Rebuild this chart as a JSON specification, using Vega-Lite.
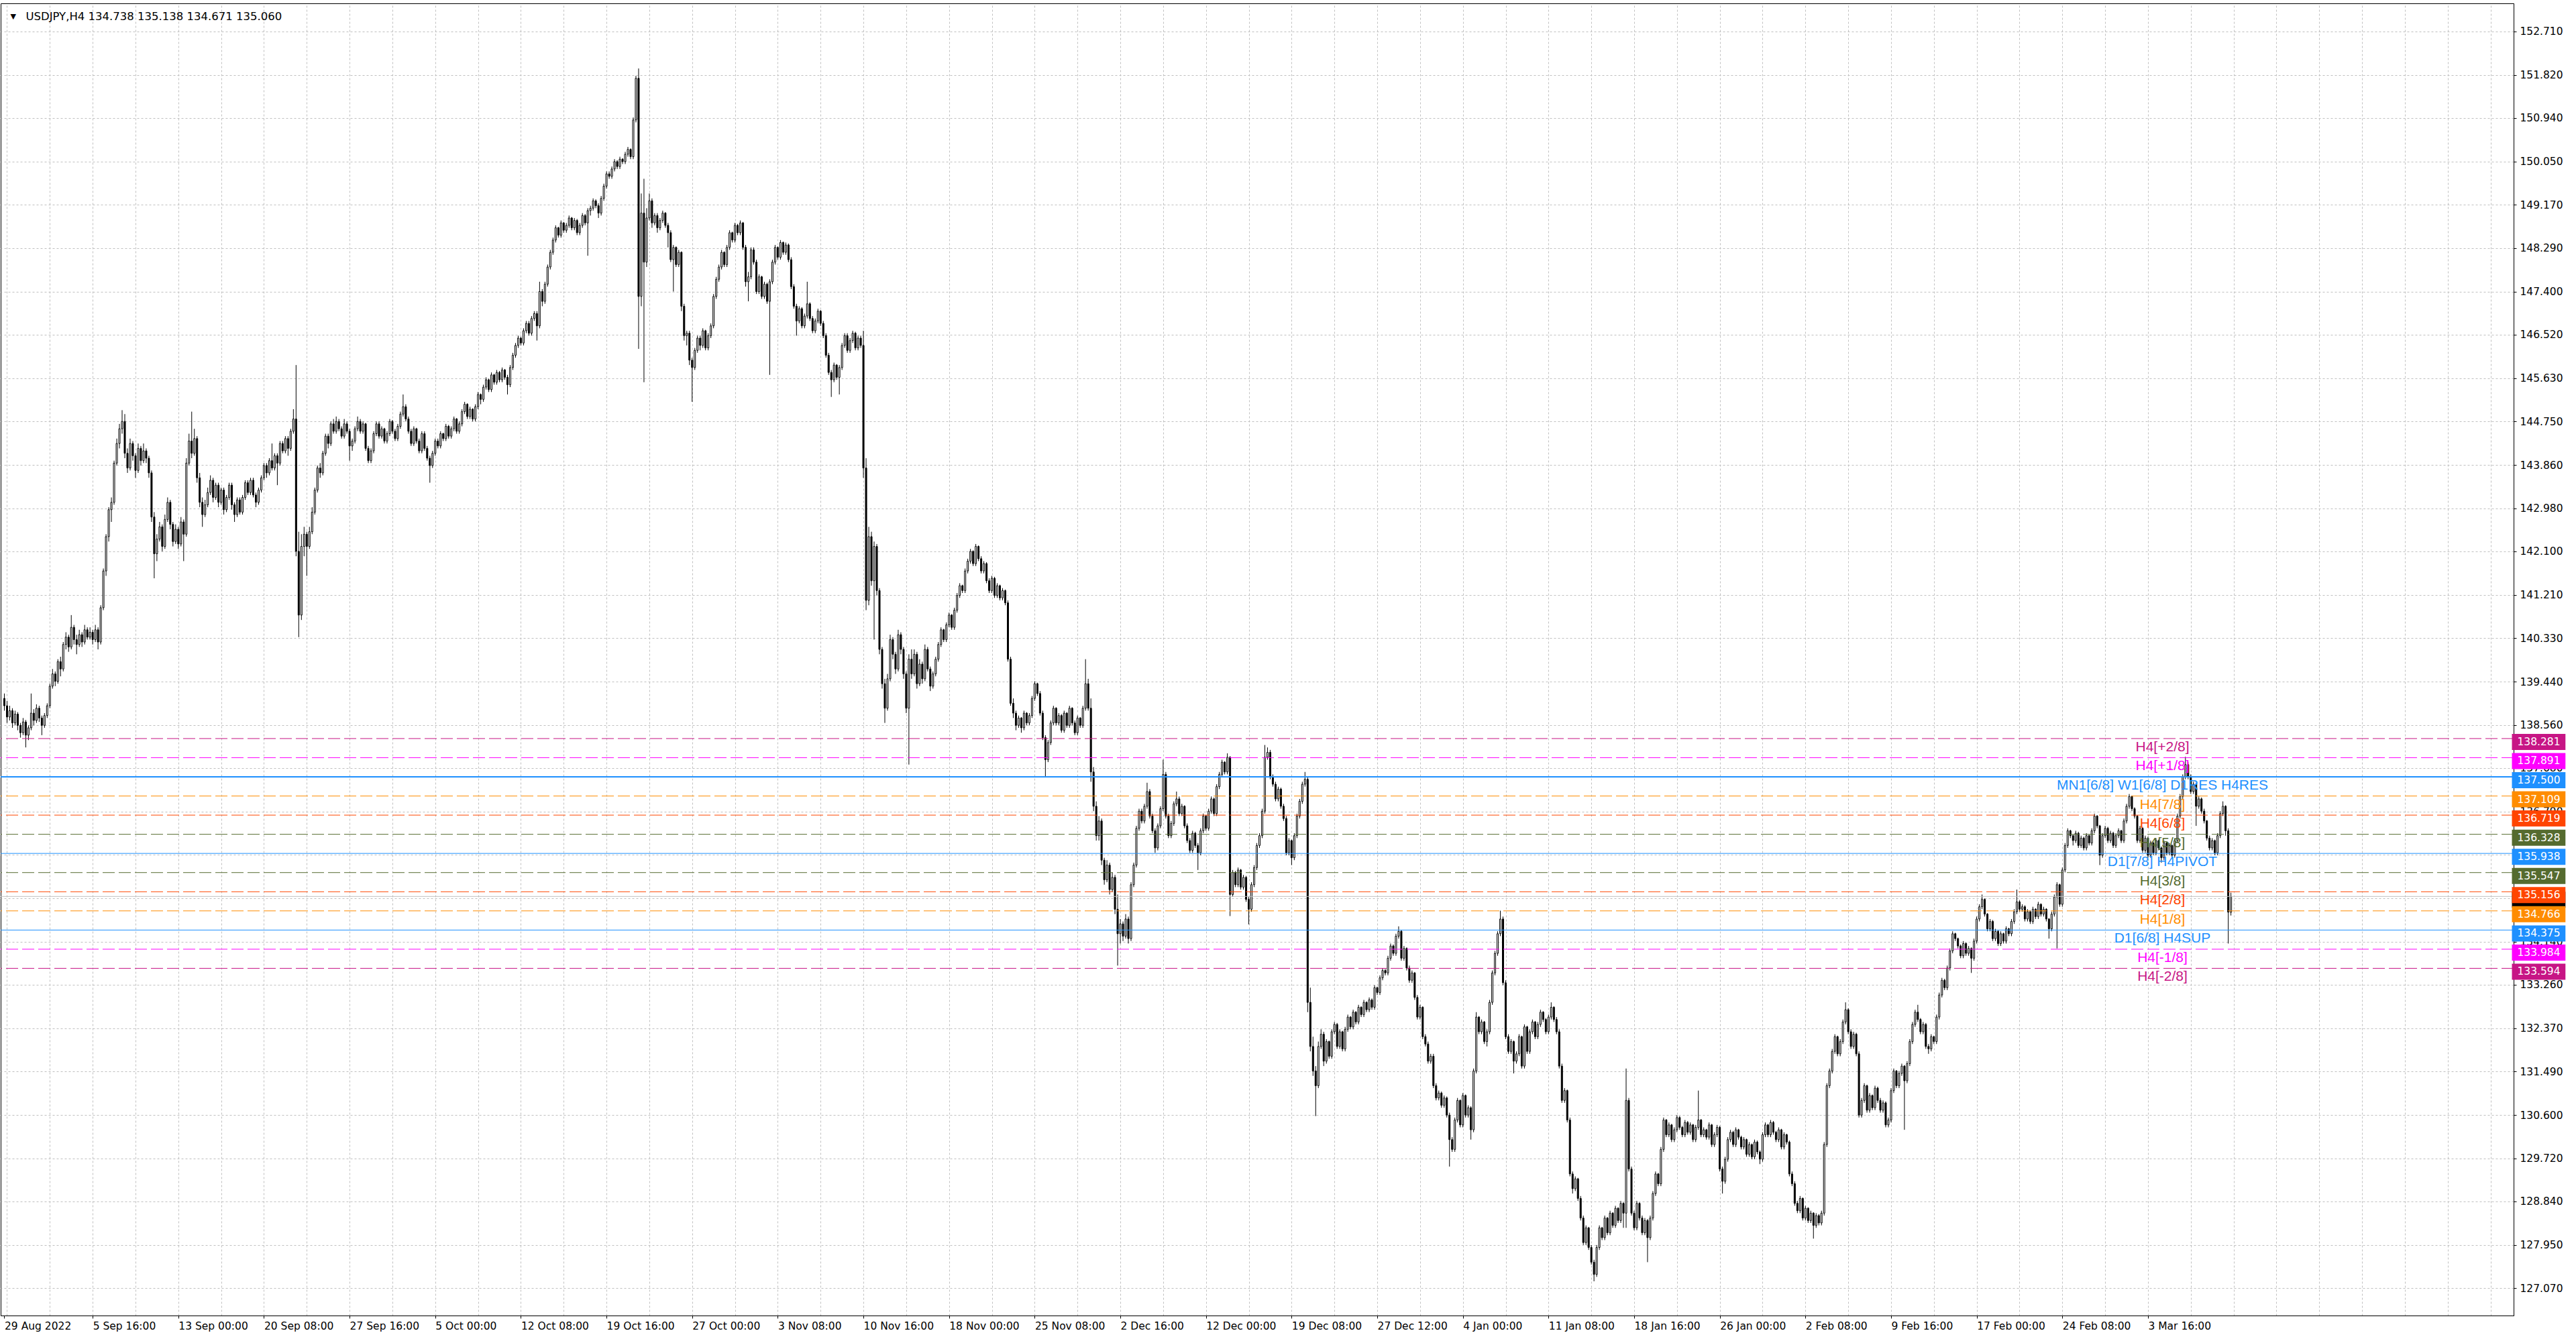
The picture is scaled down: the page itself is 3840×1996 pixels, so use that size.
{
"$schema": "https://vega.github.io/schema/vega-lite/v6.json",
"width": 3746, "height": 1956,
"padding": {"left": 0, "top": 5, "right": 0, "bottom": 0},
"autosize": {"type": "pad"},
"background": "#ffffff",
"config": {"view": {"stroke": "#000000", "strokeWidth": 1}},
"datasets": {
"levels": [
{"v":138.281,"name":"H4[+2/8]","t":"oct"},
{"v":137.891,"name":"H4[+1/8]","t":"oct"},
{"v":137.5,"name":"MN1[6/8] W1[6/8] D1RES H4RES","t":"sr","n":4},
{"v":137.109,"name":"H4[7/8]","t":"oct"},
{"v":136.719,"name":"H4[6/8]","t":"oct"},
{"v":136.328,"name":"H4[5/8]","t":"oct"},
{"v":135.938,"name":"D1[7/8] H4PIVOT","t":"sr","n":2},
{"v":135.547,"name":"H4[3/8]","t":"oct"},
{"v":135.156,"name":"H4[2/8]","t":"oct"},
{"v":134.766,"name":"H4[1/8]","t":"oct"},
{"v":134.375,"name":"D1[6/8] H4SUP","t":"sr","n":2},
{"v":133.984,"name":"H4[-1/8]","t":"oct"},
{"v":133.594,"name":"H4[-2/8]","t":"oct"}
],
"candles": [
{"i":0,"o":139.1,"h":139.2,"l":138.85,"c":138.95},
{"i":1,"o":138.95,"h":139.05,"l":138.6,"c":138.72},
{"i":2,"o":138.72,"h":138.95,"l":138.65,"c":138.85},
{"i":3,"o":138.85,"h":138.9,"l":138.5,"c":138.6},
{"i":4,"o":138.6,"h":138.85,"l":138.55,"c":138.78},
{"i":5,"o":138.78,"h":138.82,"l":138.45,"c":138.55},
{"i":6,"o":138.55,"h":138.6,"l":138.3,"c":138.4},
{"i":7,"o":138.4,"h":138.7,"l":138.35,"c":138.62},
{"i":8,"o":138.62,"h":138.66,"l":138.1,"c":138.35},
{"i":9,"o":138.35,"h":138.55,"l":138.25,"c":138.5},
{"i":10,"o":138.5,"h":139.2,"l":138.45,"c":138.8},
{"i":11,"o":138.8,"h":138.88,"l":138.55,"c":138.65},
{"i":12,"o":138.65,"h":138.98,"l":138.6,"c":138.9},
{"i":13,"o":138.9,"h":138.95,"l":138.62,"c":138.7},
{"i":14,"o":138.7,"h":138.75,"l":138.35,"c":138.55},
{"i":15,"o":138.55,"h":138.8,"l":138.5,"c":138.75},
{"i":16,"o":138.75,"h":139.0,"l":138.7,"c":138.95},
{"i":17,"o":138.95,"h":139.4,"l":138.9,"c":139.35},
{"i":18,"o":139.35,"h":139.7,"l":139.3,"c":139.6},
{"i":19,"o":139.6,"h":139.65,"l":139.35,"c":139.45},
{"i":20,"o":139.45,"h":139.9,"l":139.4,"c":139.85},
{"i":21,"o":139.85,"h":139.95,"l":139.55,"c":139.7},
{"i":22,"o":139.7,"h":140.25,"l":139.65,"c":140.2},
{"i":23,"o":140.2,"h":140.45,"l":140.1,"c":140.35},
{"i":24,"o":140.35,"h":140.4,"l":140.05,"c":140.15},
{"i":25,"o":140.15,"h":140.8,"l":140.1,"c":140.55},
{"i":26,"o":140.55,"h":140.6,"l":140.2,"c":140.3},
{"i":27,"o":140.3,"h":140.4,"l":140.0,"c":140.2},
{"i":28,"o":140.2,"h":140.5,"l":140.15,"c":140.4},
{"i":29,"o":140.4,"h":140.45,"l":140.15,"c":140.25},
{"i":30,"o":140.25,"h":140.6,"l":140.2,"c":140.5},
{"i":31,"o":140.5,"h":140.55,"l":140.3,"c":140.35},
{"i":32,"o":140.35,"h":140.55,"l":140.3,"c":140.45},
{"i":33,"o":140.45,"h":140.5,"l":140.2,"c":140.3},
{"i":34,"o":140.3,"h":140.6,"l":140.25,"c":140.5},
{"i":35,"o":140.5,"h":140.55,"l":140.1,"c":140.25},
{"i":36,"o":140.25,"h":141.0,"l":140.2,"c":140.95},
{"i":37,"o":140.95,"h":141.75,"l":140.9,"c":141.7},
{"i":38,"o":141.7,"h":142.45,"l":141.6,"c":142.4},
{"i":39,"o":142.4,"h":143.0,"l":142.3,"c":142.95},
{"i":40,"o":142.95,"h":143.2,"l":142.7,"c":143.1},
{"i":41,"o":143.1,"h":143.95,"l":143.05,"c":143.9},
{"i":42,"o":143.9,"h":144.4,"l":143.85,"c":144.3},
{"i":43,"o":144.3,"h":144.7,"l":144.2,"c":144.6},
{"i":44,"o":144.6,"h":144.98,"l":144.5,"c":144.75},
{"i":45,"o":144.75,"h":144.9,"l":144.0,"c":144.1},
{"i":46,"o":144.1,"h":144.2,"l":143.7,"c":143.8},
{"i":47,"o":143.8,"h":144.4,"l":143.75,"c":144.3},
{"i":48,"o":144.3,"h":144.35,"l":143.95,"c":144.05},
{"i":49,"o":144.05,"h":144.1,"l":143.6,"c":143.75},
{"i":50,"o":143.75,"h":144.3,"l":143.7,"c":144.2},
{"i":51,"o":144.2,"h":144.25,"l":143.85,"c":143.95},
{"i":52,"o":143.95,"h":144.3,"l":143.9,"c":144.15},
{"i":53,"o":144.15,"h":144.2,"l":143.9,"c":144.0},
{"i":54,"o":144.0,"h":144.05,"l":143.6,"c":143.7},
{"i":55,"o":143.7,"h":143.75,"l":142.7,"c":142.8},
{"i":56,"o":142.8,"h":142.9,"l":141.55,"c":142.05},
{"i":57,"o":142.05,"h":142.45,"l":141.9,"c":142.35},
{"i":58,"o":142.35,"h":142.7,"l":142.3,"c":142.6},
{"i":59,"o":142.6,"h":142.65,"l":142.1,"c":142.2},
{"i":60,"o":142.2,"h":142.85,"l":142.15,"c":142.75},
{"i":61,"o":142.75,"h":143.2,"l":142.7,"c":143.1},
{"i":62,"o":143.1,"h":143.15,"l":142.55,"c":142.65},
{"i":63,"o":142.65,"h":142.7,"l":142.2,"c":142.3},
{"i":64,"o":142.3,"h":142.65,"l":142.25,"c":142.55},
{"i":65,"o":142.55,"h":142.6,"l":142.15,"c":142.25},
{"i":66,"o":142.25,"h":142.8,"l":142.2,"c":142.7},
{"i":67,"o":142.7,"h":142.75,"l":141.9,"c":142.45},
{"i":68,"o":142.45,"h":144.0,"l":142.4,"c":143.9},
{"i":69,"o":143.9,"h":144.5,"l":143.85,"c":144.35},
{"i":70,"o":144.35,"h":144.95,"l":144.0,"c":144.1},
{"i":71,"o":144.1,"h":144.6,"l":144.05,"c":144.4},
{"i":72,"o":144.4,"h":144.45,"l":143.5,"c":143.6},
{"i":73,"o":143.6,"h":143.7,"l":143.0,"c":143.1},
{"i":74,"o":143.1,"h":143.2,"l":142.6,"c":142.85},
{"i":75,"o":142.85,"h":143.15,"l":142.8,"c":143.05},
{"i":76,"o":143.05,"h":143.4,"l":143.0,"c":143.3},
{"i":77,"o":143.3,"h":143.65,"l":143.25,"c":143.55},
{"i":78,"o":143.55,"h":143.6,"l":143.1,"c":143.2},
{"i":79,"o":143.2,"h":143.5,"l":143.15,"c":143.45},
{"i":80,"o":143.45,"h":143.5,"l":143.0,"c":143.1},
{"i":81,"o":143.1,"h":143.4,"l":143.05,"c":143.35},
{"i":82,"o":143.35,"h":143.4,"l":142.85,"c":142.95},
{"i":83,"o":142.95,"h":143.25,"l":142.9,"c":143.2},
{"i":84,"o":143.2,"h":143.5,"l":143.15,"c":143.45},
{"i":85,"o":143.45,"h":143.5,"l":142.95,"c":143.05},
{"i":86,"o":143.05,"h":143.1,"l":142.7,"c":142.85},
{"i":87,"o":142.85,"h":143.2,"l":142.8,"c":143.15},
{"i":88,"o":143.15,"h":143.2,"l":142.85,"c":142.9},
{"i":89,"o":142.9,"h":143.25,"l":142.85,"c":143.2},
{"i":90,"o":143.2,"h":143.55,"l":143.15,"c":143.5},
{"i":91,"o":143.5,"h":143.55,"l":143.25,"c":143.3},
{"i":92,"o":143.3,"h":143.6,"l":143.25,"c":143.55},
{"i":93,"o":143.55,"h":143.6,"l":143.2,"c":143.25},
{"i":94,"o":143.25,"h":143.3,"l":143.0,"c":143.1},
{"i":95,"o":143.1,"h":143.4,"l":143.05,"c":143.35},
{"i":96,"o":143.35,"h":143.65,"l":143.3,"c":143.6},
{"i":97,"o":143.6,"h":143.9,"l":143.55,"c":143.85},
{"i":98,"o":143.85,"h":143.9,"l":143.6,"c":143.7},
{"i":99,"o":143.7,"h":144.0,"l":143.65,"c":143.95},
{"i":100,"o":143.95,"h":144.3,"l":143.75,"c":143.8},
{"i":101,"o":143.8,"h":144.1,"l":143.75,"c":144.05},
{"i":102,"o":144.05,"h":144.1,"l":143.45,"c":143.9},
{"i":103,"o":143.9,"h":144.35,"l":143.85,"c":144.3},
{"i":104,"o":144.3,"h":144.35,"l":144.1,"c":144.15},
{"i":105,"o":144.15,"h":144.45,"l":144.1,"c":144.4},
{"i":106,"o":144.4,"h":144.45,"l":144.05,"c":144.2},
{"i":107,"o":144.2,"h":144.6,"l":144.15,"c":144.55},
{"i":108,"o":144.55,"h":145.0,"l":144.5,"c":144.8},
{"i":109,"o":144.8,"h":145.9,"l":142.0,"c":142.1},
{"i":110,"o":142.1,"h":142.5,"l":140.35,"c":140.8},
{"i":111,"o":140.8,"h":142.45,"l":140.7,"c":142.2},
{"i":112,"o":142.2,"h":142.6,"l":142.0,"c":142.45},
{"i":113,"o":142.45,"h":142.5,"l":141.6,"c":142.2},
{"i":114,"o":142.2,"h":142.6,"l":142.15,"c":142.5},
{"i":115,"o":142.5,"h":143.0,"l":142.45,"c":142.9},
{"i":116,"o":142.9,"h":143.4,"l":142.85,"c":143.35},
{"i":117,"o":143.35,"h":143.85,"l":143.3,"c":143.8},
{"i":118,"o":143.8,"h":143.9,"l":143.6,"c":143.7},
{"i":119,"o":143.7,"h":144.15,"l":143.65,"c":144.1},
{"i":120,"o":144.1,"h":144.5,"l":144.05,"c":144.45},
{"i":121,"o":144.45,"h":144.5,"l":144.2,"c":144.3},
{"i":122,"o":144.3,"h":144.75,"l":144.25,"c":144.7},
{"i":123,"o":144.7,"h":144.8,"l":144.5,"c":144.55},
{"i":124,"o":144.55,"h":144.85,"l":144.5,"c":144.75},
{"i":125,"o":144.75,"h":144.8,"l":144.55,"c":144.6},
{"i":126,"o":144.6,"h":144.65,"l":144.4,"c":144.45},
{"i":127,"o":144.45,"h":144.8,"l":144.4,"c":144.7},
{"i":128,"o":144.7,"h":144.75,"l":144.5,"c":144.55},
{"i":129,"o":144.55,"h":144.6,"l":143.95,"c":144.25},
{"i":130,"o":144.25,"h":144.4,"l":144.15,"c":144.35},
{"i":131,"o":144.35,"h":144.65,"l":144.3,"c":144.6},
{"i":132,"o":144.6,"h":144.85,"l":144.55,"c":144.75},
{"i":133,"o":144.75,"h":144.8,"l":144.5,"c":144.55},
{"i":134,"o":144.55,"h":144.75,"l":144.5,"c":144.7},
{"i":135,"o":144.7,"h":144.72,"l":144.15,"c":144.2},
{"i":136,"o":144.2,"h":144.25,"l":143.9,"c":143.95},
{"i":137,"o":143.95,"h":144.2,"l":143.9,"c":144.15},
{"i":138,"o":144.15,"h":144.55,"l":144.1,"c":144.5},
{"i":139,"o":144.5,"h":144.75,"l":144.45,"c":144.7},
{"i":140,"o":144.7,"h":144.75,"l":144.4,"c":144.45},
{"i":141,"o":144.45,"h":144.65,"l":144.4,"c":144.6},
{"i":142,"o":144.6,"h":144.62,"l":144.3,"c":144.35},
{"i":143,"o":144.35,"h":144.55,"l":144.3,"c":144.5},
{"i":144,"o":144.5,"h":144.8,"l":144.45,"c":144.75},
{"i":145,"o":144.75,"h":144.78,"l":144.5,"c":144.55},
{"i":146,"o":144.55,"h":144.6,"l":144.35,"c":144.4},
{"i":147,"o":144.4,"h":144.7,"l":144.35,"c":144.65},
{"i":148,"o":144.65,"h":144.95,"l":144.6,"c":144.9},
{"i":149,"o":144.9,"h":145.3,"l":144.85,"c":145.05},
{"i":150,"o":145.05,"h":145.1,"l":144.75,"c":144.8},
{"i":151,"o":144.8,"h":144.85,"l":144.5,"c":144.55},
{"i":152,"o":144.55,"h":144.6,"l":144.25,"c":144.3},
{"i":153,"o":144.3,"h":144.65,"l":144.25,"c":144.6},
{"i":154,"o":144.6,"h":144.62,"l":144.3,"c":144.35},
{"i":155,"o":144.35,"h":144.4,"l":144.1,"c":144.15},
{"i":156,"o":144.15,"h":144.55,"l":144.1,"c":144.5},
{"i":157,"o":144.5,"h":144.55,"l":144.15,"c":144.2},
{"i":158,"o":144.2,"h":144.25,"l":143.95,"c":144.0},
{"i":159,"o":144.0,"h":144.05,"l":143.5,"c":143.85},
{"i":160,"o":143.85,"h":144.15,"l":143.8,"c":144.1},
{"i":161,"o":144.1,"h":144.4,"l":144.05,"c":144.35},
{"i":162,"o":144.35,"h":144.4,"l":144.2,"c":144.25},
{"i":163,"o":144.25,"h":144.55,"l":144.2,"c":144.5},
{"i":164,"o":144.5,"h":144.52,"l":144.35,"c":144.4},
{"i":165,"o":144.4,"h":144.7,"l":144.35,"c":144.65},
{"i":166,"o":144.65,"h":144.68,"l":144.4,"c":144.45},
{"i":167,"o":144.45,"h":144.65,"l":144.4,"c":144.6},
{"i":168,"o":144.6,"h":144.85,"l":144.55,"c":144.8},
{"i":169,"o":144.8,"h":144.82,"l":144.5,"c":144.55},
{"i":170,"o":144.55,"h":144.75,"l":144.5,"c":144.7},
{"i":171,"o":144.7,"h":145.0,"l":144.65,"c":144.95},
{"i":172,"o":144.95,"h":145.15,"l":144.9,"c":145.1},
{"i":173,"o":145.1,"h":145.12,"l":144.8,"c":144.85},
{"i":174,"o":144.85,"h":145.05,"l":144.8,"c":145.0},
{"i":175,"o":145.0,"h":145.02,"l":144.75,"c":144.8},
{"i":176,"o":144.8,"h":145.1,"l":144.75,"c":145.05},
{"i":177,"o":145.05,"h":145.35,"l":145.0,"c":145.3},
{"i":178,"o":145.3,"h":145.32,"l":145.1,"c":145.2},
{"i":179,"o":145.2,"h":145.5,"l":145.15,"c":145.45},
{"i":180,"o":145.45,"h":145.65,"l":145.4,"c":145.6},
{"i":181,"o":145.6,"h":145.62,"l":145.35,"c":145.4},
{"i":182,"o":145.4,"h":145.75,"l":145.35,"c":145.7},
{"i":183,"o":145.7,"h":145.72,"l":145.5,"c":145.55},
{"i":184,"o":145.55,"h":145.8,"l":145.5,"c":145.75},
{"i":185,"o":145.75,"h":145.78,"l":145.55,"c":145.6},
{"i":186,"o":145.6,"h":145.85,"l":145.55,"c":145.8},
{"i":187,"o":145.8,"h":145.82,"l":145.6,"c":145.65},
{"i":188,"o":145.65,"h":145.7,"l":145.3,"c":145.5},
{"i":189,"o":145.5,"h":145.9,"l":145.45,"c":145.85},
{"i":190,"o":145.85,"h":146.15,"l":145.8,"c":146.1},
{"i":191,"o":146.1,"h":146.35,"l":146.05,"c":146.3},
{"i":192,"o":146.3,"h":146.5,"l":146.25,"c":146.45},
{"i":193,"o":146.45,"h":146.48,"l":146.3,"c":146.35},
{"i":194,"o":146.35,"h":146.65,"l":146.3,"c":146.6},
{"i":195,"o":146.6,"h":146.8,"l":146.55,"c":146.75},
{"i":196,"o":146.75,"h":146.8,"l":146.5,"c":146.55},
{"i":197,"o":146.55,"h":146.9,"l":146.5,"c":146.85},
{"i":198,"o":146.85,"h":147.0,"l":146.8,"c":146.95},
{"i":199,"o":146.95,"h":147.0,"l":146.4,"c":146.7},
{"i":200,"o":146.7,"h":147.6,"l":146.65,"c":147.4},
{"i":201,"o":147.4,"h":147.45,"l":147.1,"c":147.2},
{"i":202,"o":147.2,"h":147.6,"l":147.15,"c":147.55},
{"i":203,"o":147.55,"h":147.95,"l":147.5,"c":147.9},
{"i":204,"o":147.9,"h":148.25,"l":147.85,"c":148.2},
{"i":205,"o":148.2,"h":148.5,"l":148.15,"c":148.45},
{"i":206,"o":148.45,"h":148.75,"l":148.4,"c":148.7},
{"i":207,"o":148.7,"h":148.72,"l":148.5,"c":148.55},
{"i":208,"o":148.55,"h":148.85,"l":148.5,"c":148.8},
{"i":209,"o":148.8,"h":148.82,"l":148.6,"c":148.65},
{"i":210,"o":148.65,"h":148.8,"l":148.6,"c":148.75},
{"i":211,"o":148.75,"h":148.95,"l":148.7,"c":148.9},
{"i":212,"o":148.9,"h":148.92,"l":148.65,"c":148.7},
{"i":213,"o":148.7,"h":148.9,"l":148.65,"c":148.85},
{"i":214,"o":148.85,"h":148.88,"l":148.55,"c":148.6},
{"i":215,"o":148.6,"h":148.8,"l":148.55,"c":148.75},
{"i":216,"o":148.75,"h":149.0,"l":148.7,"c":148.95},
{"i":217,"o":148.95,"h":148.98,"l":148.75,"c":148.8},
{"i":218,"o":148.8,"h":149.1,"l":148.13,"c":149.05},
{"i":219,"o":149.05,"h":149.15,"l":148.95,"c":149.1},
{"i":220,"o":149.1,"h":149.3,"l":149.05,"c":149.25},
{"i":221,"o":149.25,"h":149.28,"l":149.1,"c":149.15},
{"i":222,"o":149.15,"h":149.2,"l":148.9,"c":149.0},
{"i":223,"o":149.0,"h":149.35,"l":148.95,"c":149.3},
{"i":224,"o":149.3,"h":149.6,"l":149.25,"c":149.55},
{"i":225,"o":149.55,"h":149.85,"l":149.5,"c":149.8},
{"i":226,"o":149.8,"h":149.85,"l":149.7,"c":149.75},
{"i":227,"o":149.75,"h":149.95,"l":149.7,"c":149.9},
{"i":228,"o":149.9,"h":150.1,"l":149.85,"c":150.05},
{"i":229,"o":150.05,"h":150.08,"l":149.9,"c":149.95},
{"i":230,"o":149.95,"h":150.15,"l":149.9,"c":150.1},
{"i":231,"o":150.1,"h":150.12,"l":150.0,"c":150.05},
{"i":232,"o":150.05,"h":150.25,"l":150.0,"c":150.2},
{"i":233,"o":150.2,"h":150.35,"l":150.15,"c":150.3},
{"i":234,"o":150.3,"h":150.32,"l":150.1,"c":150.15},
{"i":235,"o":150.15,"h":150.95,"l":150.1,"c":150.9},
{"i":236,"o":150.9,"h":151.8,"l":150.85,"c":151.75},
{"i":237,"o":151.75,"h":151.95,"l":146.23,"c":147.3},
{"i":238,"o":147.3,"h":149.4,"l":147.1,"c":149.0},
{"i":239,"o":149.0,"h":149.7,"l":145.55,"c":148.0},
{"i":240,"o":148.0,"h":149.1,"l":147.9,"c":148.9},
{"i":241,"o":148.9,"h":149.4,"l":148.85,"c":149.25},
{"i":242,"o":149.25,"h":149.3,"l":148.7,"c":148.8},
{"i":243,"o":148.8,"h":149.0,"l":148.75,"c":148.95},
{"i":244,"o":148.95,"h":149.0,"l":148.6,"c":148.7},
{"i":245,"o":148.7,"h":148.9,"l":148.65,"c":148.85},
{"i":246,"o":148.85,"h":149.05,"l":148.8,"c":149.0},
{"i":247,"o":149.0,"h":149.02,"l":148.7,"c":148.75},
{"i":248,"o":148.75,"h":148.8,"l":148.3,"c":148.6},
{"i":249,"o":148.6,"h":148.65,"l":148.0,"c":148.05},
{"i":250,"o":148.05,"h":148.35,"l":147.4,"c":148.3},
{"i":251,"o":148.3,"h":148.32,"l":147.9,"c":147.95},
{"i":252,"o":147.95,"h":148.25,"l":147.9,"c":148.2},
{"i":253,"o":148.2,"h":148.22,"l":147.0,"c":147.1},
{"i":254,"o":147.1,"h":147.15,"l":146.4,"c":146.5},
{"i":255,"o":146.5,"h":146.6,"l":146.3,"c":146.55},
{"i":256,"o":146.55,"h":146.6,"l":145.9,"c":146.0},
{"i":257,"o":146.0,"h":146.05,"l":145.15,"c":145.85},
{"i":258,"o":145.85,"h":146.25,"l":145.8,"c":146.2},
{"i":259,"o":146.2,"h":146.5,"l":146.15,"c":146.45},
{"i":260,"o":146.45,"h":146.5,"l":146.2,"c":146.3},
{"i":261,"o":146.3,"h":146.65,"l":146.25,"c":146.6},
{"i":262,"o":146.6,"h":146.62,"l":146.2,"c":146.25},
{"i":263,"o":146.25,"h":146.55,"l":146.2,"c":146.5},
{"i":264,"o":146.5,"h":146.75,"l":146.45,"c":146.7},
{"i":265,"o":146.7,"h":147.35,"l":146.65,"c":147.3},
{"i":266,"o":147.3,"h":147.7,"l":147.25,"c":147.65},
{"i":267,"o":147.65,"h":147.95,"l":147.6,"c":147.9},
{"i":268,"o":147.9,"h":148.25,"l":147.85,"c":148.2},
{"i":269,"o":148.2,"h":148.22,"l":147.9,"c":147.95},
{"i":270,"o":147.95,"h":148.35,"l":147.9,"c":148.3},
{"i":271,"o":148.3,"h":148.65,"l":148.25,"c":148.6},
{"i":272,"o":148.6,"h":148.62,"l":148.4,"c":148.45},
{"i":273,"o":148.45,"h":148.8,"l":148.4,"c":148.75},
{"i":274,"o":148.75,"h":148.78,"l":148.55,"c":148.6},
{"i":275,"o":148.6,"h":148.85,"l":148.55,"c":148.8},
{"i":276,"o":148.8,"h":148.82,"l":148.25,"c":148.3},
{"i":277,"o":148.3,"h":148.35,"l":147.5,"c":147.6},
{"i":278,"o":147.6,"h":147.8,"l":147.2,"c":147.7},
{"i":279,"o":147.7,"h":148.3,"l":147.65,"c":148.25},
{"i":280,"o":148.25,"h":148.3,"l":147.95,"c":148.0},
{"i":281,"o":148.0,"h":148.05,"l":147.35,"c":147.4},
{"i":282,"o":147.4,"h":147.75,"l":147.35,"c":147.7},
{"i":283,"o":147.7,"h":147.72,"l":147.25,"c":147.3},
{"i":284,"o":147.3,"h":147.6,"l":147.25,"c":147.55},
{"i":285,"o":147.55,"h":147.58,"l":147.15,"c":147.2},
{"i":286,"o":147.2,"h":147.65,"l":145.7,"c":147.6},
{"i":287,"o":147.6,"h":148.05,"l":147.55,"c":148.0},
{"i":288,"o":148.0,"h":148.35,"l":147.95,"c":148.3},
{"i":289,"o":148.3,"h":148.32,"l":148.05,"c":148.1},
{"i":290,"o":148.1,"h":148.45,"l":148.05,"c":148.4},
{"i":291,"o":148.4,"h":148.42,"l":148.15,"c":148.2},
{"i":292,"o":148.2,"h":148.4,"l":148.15,"c":148.35},
{"i":293,"o":148.35,"h":148.38,"l":148.0,"c":148.05},
{"i":294,"o":148.05,"h":148.1,"l":147.45,"c":147.5},
{"i":295,"o":147.5,"h":147.55,"l":147.05,"c":147.1},
{"i":296,"o":147.1,"h":147.15,"l":146.5,"c":146.8},
{"i":297,"o":146.8,"h":147.1,"l":146.75,"c":147.05},
{"i":298,"o":147.05,"h":147.08,"l":146.65,"c":146.7},
{"i":299,"o":146.7,"h":146.95,"l":146.65,"c":146.9},
{"i":300,"o":146.9,"h":147.6,"l":146.85,"c":147.15},
{"i":301,"o":147.15,"h":147.18,"l":146.8,"c":146.85},
{"i":302,"o":146.85,"h":146.9,"l":146.55,"c":146.6},
{"i":303,"o":146.6,"h":146.85,"l":146.55,"c":146.8},
{"i":304,"o":146.8,"h":147.05,"l":146.75,"c":147.0},
{"i":305,"o":147.0,"h":147.02,"l":146.7,"c":146.75},
{"i":306,"o":146.75,"h":146.8,"l":146.45,"c":146.5},
{"i":307,"o":146.5,"h":146.55,"l":146.05,"c":146.1},
{"i":308,"o":146.1,"h":146.15,"l":145.7,"c":145.75},
{"i":309,"o":145.75,"h":145.8,"l":145.25,"c":145.6},
{"i":310,"o":145.6,"h":145.95,"l":145.55,"c":145.9},
{"i":311,"o":145.9,"h":145.92,"l":145.6,"c":145.65},
{"i":312,"o":145.65,"h":145.9,"l":145.3,"c":145.85},
{"i":313,"o":145.85,"h":146.35,"l":145.8,"c":146.3},
{"i":314,"o":146.3,"h":146.55,"l":146.25,"c":146.5},
{"i":315,"o":146.5,"h":146.55,"l":146.15,"c":146.2},
{"i":316,"o":146.2,"h":146.45,"l":146.15,"c":146.4},
{"i":317,"o":146.4,"h":146.6,"l":146.35,"c":146.55},
{"i":318,"o":146.55,"h":146.58,"l":146.2,"c":146.25},
{"i":319,"o":146.25,"h":146.5,"l":146.2,"c":146.45},
{"i":320,"o":146.45,"h":146.5,"l":146.25,"c":146.3},
{"i":321,"o":146.3,"h":146.6,"l":143.6,"c":143.8},
{"i":322,"o":143.8,"h":144.0,"l":140.9,"c":141.1},
{"i":323,"o":141.1,"h":142.6,"l":141.0,"c":142.4},
{"i":324,"o":142.4,"h":142.5,"l":141.4,"c":141.5},
{"i":325,"o":141.5,"h":142.3,"l":140.3,"c":142.2},
{"i":326,"o":142.2,"h":142.25,"l":141.2,"c":141.3},
{"i":327,"o":141.3,"h":141.35,"l":140.0,"c":140.1},
{"i":328,"o":140.1,"h":140.15,"l":139.3,"c":139.4},
{"i":329,"o":139.4,"h":139.5,"l":138.6,"c":138.9},
{"i":330,"o":138.9,"h":139.6,"l":138.85,"c":139.5},
{"i":331,"o":139.5,"h":140.4,"l":139.45,"c":140.3},
{"i":332,"o":140.3,"h":140.35,"l":139.9,"c":140.0},
{"i":333,"o":140.0,"h":140.05,"l":139.6,"c":139.7},
{"i":334,"o":139.7,"h":140.5,"l":139.65,"c":140.4},
{"i":335,"o":140.4,"h":140.45,"l":140.0,"c":140.1},
{"i":336,"o":140.1,"h":140.15,"l":139.5,"c":139.6},
{"i":337,"o":139.6,"h":139.65,"l":138.8,"c":138.9},
{"i":338,"o":138.9,"h":140.0,"l":137.75,"c":139.9},
{"i":339,"o":139.9,"h":140.1,"l":139.5,"c":139.6},
{"i":340,"o":139.6,"h":140.1,"l":139.55,"c":140.0},
{"i":341,"o":140.0,"h":140.05,"l":139.3,"c":139.4},
{"i":342,"o":139.4,"h":139.9,"l":139.35,"c":139.8},
{"i":343,"o":139.8,"h":139.85,"l":139.4,"c":139.5},
{"i":344,"o":139.5,"h":140.2,"l":139.45,"c":140.1},
{"i":345,"o":140.1,"h":140.15,"l":139.65,"c":139.7},
{"i":346,"o":139.7,"h":139.75,"l":139.25,"c":139.35},
{"i":347,"o":139.35,"h":139.65,"l":139.3,"c":139.6},
{"i":348,"o":139.6,"h":139.95,"l":139.55,"c":139.9},
{"i":349,"o":139.9,"h":140.25,"l":139.85,"c":140.2},
{"i":350,"o":140.2,"h":140.55,"l":140.15,"c":140.5},
{"i":351,"o":140.5,"h":140.52,"l":140.25,"c":140.3},
{"i":352,"o":140.3,"h":140.65,"l":140.25,"c":140.6},
{"i":353,"o":140.6,"h":140.85,"l":140.55,"c":140.8},
{"i":354,"o":140.8,"h":140.82,"l":140.5,"c":140.55},
{"i":355,"o":140.55,"h":140.95,"l":140.5,"c":140.9},
{"i":356,"o":140.9,"h":141.25,"l":140.85,"c":141.2},
{"i":357,"o":141.2,"h":141.45,"l":141.15,"c":141.4},
{"i":358,"o":141.4,"h":141.42,"l":141.25,"c":141.3},
{"i":359,"o":141.3,"h":141.75,"l":141.25,"c":141.7},
{"i":360,"o":141.7,"h":141.95,"l":141.65,"c":141.9},
{"i":361,"o":141.9,"h":142.15,"l":141.85,"c":142.1},
{"i":362,"o":142.1,"h":142.12,"l":141.8,"c":141.85},
{"i":363,"o":141.85,"h":142.25,"l":141.8,"c":142.2},
{"i":364,"o":142.2,"h":142.22,"l":141.9,"c":141.95},
{"i":365,"o":141.95,"h":142.0,"l":141.65,"c":141.7},
{"i":366,"o":141.7,"h":141.9,"l":141.65,"c":141.85},
{"i":367,"o":141.85,"h":141.88,"l":141.45,"c":141.5},
{"i":368,"o":141.5,"h":141.55,"l":141.25,"c":141.3},
{"i":369,"o":141.3,"h":141.6,"l":141.25,"c":141.55},
{"i":370,"o":141.55,"h":141.58,"l":141.15,"c":141.2},
{"i":371,"o":141.2,"h":141.45,"l":141.15,"c":141.4},
{"i":372,"o":141.4,"h":141.42,"l":141.1,"c":141.15},
{"i":373,"o":141.15,"h":141.35,"l":141.1,"c":141.3},
{"i":374,"o":141.3,"h":141.32,"l":141.0,"c":141.05},
{"i":375,"o":141.05,"h":141.1,"l":139.85,"c":139.9},
{"i":376,"o":139.9,"h":139.95,"l":138.95,"c":139.0},
{"i":377,"o":139.0,"h":139.1,"l":138.7,"c":138.8},
{"i":378,"o":138.8,"h":138.85,"l":138.45,"c":138.55},
{"i":379,"o":138.55,"h":138.75,"l":138.5,"c":138.7},
{"i":380,"o":138.7,"h":138.72,"l":138.4,"c":138.5},
{"i":381,"o":138.5,"h":138.85,"l":138.45,"c":138.8},
{"i":382,"o":138.8,"h":138.82,"l":138.55,"c":138.6},
{"i":383,"o":138.6,"h":138.8,"l":138.55,"c":138.75},
{"i":384,"o":138.75,"h":139.15,"l":138.7,"c":139.1},
{"i":385,"o":139.1,"h":139.45,"l":139.05,"c":139.4},
{"i":386,"o":139.4,"h":139.42,"l":139.15,"c":139.2},
{"i":387,"o":139.2,"h":139.25,"l":138.75,"c":138.8},
{"i":388,"o":138.8,"h":138.85,"l":138.25,"c":138.3},
{"i":389,"o":138.3,"h":138.35,"l":137.5,"c":137.85},
{"i":390,"o":137.85,"h":138.25,"l":137.8,"c":138.2},
{"i":391,"o":138.2,"h":138.65,"l":138.15,"c":138.6},
{"i":392,"o":138.6,"h":138.95,"l":138.55,"c":138.9},
{"i":393,"o":138.9,"h":138.92,"l":138.55,"c":138.6},
{"i":394,"o":138.6,"h":138.8,"l":138.55,"c":138.75},
{"i":395,"o":138.75,"h":138.78,"l":138.4,"c":138.45},
{"i":396,"o":138.45,"h":138.85,"l":138.4,"c":138.8},
{"i":397,"o":138.8,"h":138.82,"l":138.5,"c":138.55},
{"i":398,"o":138.55,"h":138.95,"l":138.5,"c":138.9},
{"i":399,"o":138.9,"h":138.92,"l":138.55,"c":138.6},
{"i":400,"o":138.6,"h":138.65,"l":138.35,"c":138.4},
{"i":401,"o":138.4,"h":138.75,"l":138.35,"c":138.7},
{"i":402,"o":138.7,"h":138.72,"l":138.5,"c":138.55},
{"i":403,"o":138.55,"h":138.95,"l":138.5,"c":138.9},
{"i":404,"o":138.9,"h":139.9,"l":138.85,"c":139.4},
{"i":405,"o":139.4,"h":139.5,"l":138.85,"c":138.9},
{"i":406,"o":138.9,"h":139.1,"l":137.4,"c":137.6},
{"i":407,"o":137.6,"h":137.7,"l":136.8,"c":136.9},
{"i":408,"o":136.9,"h":137.0,"l":136.2,"c":136.3},
{"i":409,"o":136.3,"h":136.7,"l":136.2,"c":136.6},
{"i":410,"o":136.6,"h":136.65,"l":135.7,"c":135.8},
{"i":411,"o":135.8,"h":135.85,"l":135.3,"c":135.4},
{"i":412,"o":135.4,"h":135.8,"l":135.35,"c":135.7},
{"i":413,"o":135.7,"h":135.75,"l":135.1,"c":135.2},
{"i":414,"o":135.2,"h":135.55,"l":135.15,"c":135.45},
{"i":415,"o":135.45,"h":135.5,"l":134.7,"c":134.8},
{"i":416,"o":134.8,"h":135.1,"l":133.65,"c":134.3},
{"i":417,"o":134.3,"h":134.6,"l":134.1,"c":134.5},
{"i":418,"o":134.5,"h":134.55,"l":134.15,"c":134.25},
{"i":419,"o":134.25,"h":134.7,"l":134.2,"c":134.6},
{"i":420,"o":134.6,"h":134.65,"l":134.1,"c":134.2},
{"i":421,"o":134.2,"h":135.35,"l":134.15,"c":135.3},
{"i":422,"o":135.3,"h":135.75,"l":135.25,"c":135.7},
{"i":423,"o":135.7,"h":136.5,"l":135.65,"c":136.45},
{"i":424,"o":136.45,"h":136.85,"l":136.4,"c":136.8},
{"i":425,"o":136.8,"h":136.85,"l":136.55,"c":136.6},
{"i":426,"o":136.6,"h":136.95,"l":136.55,"c":136.9},
{"i":427,"o":136.9,"h":137.38,"l":136.85,"c":137.2},
{"i":428,"o":137.2,"h":137.25,"l":136.65,"c":136.7},
{"i":429,"o":136.7,"h":136.75,"l":136.35,"c":136.4},
{"i":430,"o":136.4,"h":136.45,"l":135.95,"c":136.05},
{"i":431,"o":136.05,"h":136.55,"l":136.0,"c":136.5},
{"i":432,"o":136.5,"h":136.9,"l":136.45,"c":136.85},
{"i":433,"o":136.85,"h":137.85,"l":136.8,"c":137.55},
{"i":434,"o":137.55,"h":137.6,"l":136.65,"c":136.7},
{"i":435,"o":136.7,"h":136.75,"l":136.25,"c":136.3},
{"i":436,"o":136.3,"h":136.6,"l":136.25,"c":136.55},
{"i":437,"o":136.55,"h":137.0,"l":136.5,"c":136.95},
{"i":438,"o":136.95,"h":137.2,"l":136.9,"c":137.05},
{"i":439,"o":137.05,"h":137.1,"l":136.7,"c":136.75},
{"i":440,"o":136.75,"h":136.95,"l":136.7,"c":136.9},
{"i":441,"o":136.9,"h":136.92,"l":136.45,"c":136.5},
{"i":442,"o":136.5,"h":136.55,"l":136.15,"c":136.2},
{"i":443,"o":136.2,"h":136.25,"l":135.95,"c":136.0},
{"i":444,"o":136.0,"h":136.4,"l":135.95,"c":136.35},
{"i":445,"o":136.35,"h":136.38,"l":136.05,"c":136.1},
{"i":446,"o":136.1,"h":136.15,"l":135.6,"c":135.95},
{"i":447,"o":135.95,"h":136.45,"l":135.9,"c":136.4},
{"i":448,"o":136.4,"h":136.75,"l":136.35,"c":136.7},
{"i":449,"o":136.7,"h":136.72,"l":136.4,"c":136.45},
{"i":450,"o":136.45,"h":136.85,"l":136.4,"c":136.8},
{"i":451,"o":136.8,"h":137.1,"l":136.75,"c":137.05},
{"i":452,"o":137.05,"h":137.08,"l":136.7,"c":136.75},
{"i":453,"o":136.75,"h":137.35,"l":136.7,"c":137.3},
{"i":454,"o":137.3,"h":137.6,"l":137.25,"c":137.55},
{"i":455,"o":137.55,"h":137.85,"l":137.5,"c":137.8},
{"i":456,"o":137.8,"h":137.82,"l":137.55,"c":137.6},
{"i":457,"o":137.6,"h":137.98,"l":137.55,"c":137.9},
{"i":458,"o":137.9,"h":137.92,"l":134.66,"c":135.1},
{"i":459,"o":135.1,"h":135.6,"l":135.05,"c":135.55},
{"i":460,"o":135.55,"h":135.58,"l":135.25,"c":135.3},
{"i":461,"o":135.3,"h":135.65,"l":135.25,"c":135.6},
{"i":462,"o":135.6,"h":135.62,"l":135.2,"c":135.25},
{"i":463,"o":135.25,"h":135.5,"l":135.2,"c":135.45},
{"i":464,"o":135.45,"h":135.48,"l":134.95,"c":135.0},
{"i":465,"o":135.0,"h":135.05,"l":134.49,"c":134.8},
{"i":466,"o":134.8,"h":135.35,"l":134.75,"c":135.3},
{"i":467,"o":135.3,"h":135.7,"l":135.25,"c":135.65},
{"i":468,"o":135.65,"h":136.15,"l":135.6,"c":136.1},
{"i":469,"o":136.1,"h":136.35,"l":136.05,"c":136.3},
{"i":470,"o":136.3,"h":136.85,"l":136.25,"c":136.8},
{"i":471,"o":136.8,"h":138.15,"l":136.75,"c":137.9},
{"i":472,"o":137.9,"h":138.1,"l":137.85,"c":138.0},
{"i":473,"o":138.0,"h":138.05,"l":137.45,"c":137.5},
{"i":474,"o":137.5,"h":137.55,"l":137.3,"c":137.35},
{"i":475,"o":137.35,"h":137.4,"l":137.0,"c":137.05},
{"i":476,"o":137.05,"h":137.3,"l":137.0,"c":137.25},
{"i":477,"o":137.25,"h":137.28,"l":136.85,"c":136.9},
{"i":478,"o":136.9,"h":136.95,"l":136.6,"c":136.65},
{"i":479,"o":136.65,"h":136.7,"l":135.9,"c":135.95},
{"i":480,"o":135.95,"h":136.25,"l":135.9,"c":136.2},
{"i":481,"o":136.2,"h":136.22,"l":135.7,"c":135.85},
{"i":482,"o":135.85,"h":136.35,"l":135.8,"c":136.3},
{"i":483,"o":136.3,"h":136.75,"l":136.25,"c":136.7},
{"i":484,"o":136.7,"h":137.05,"l":136.65,"c":137.0},
{"i":485,"o":137.0,"h":137.4,"l":136.95,"c":137.35},
{"i":486,"o":137.35,"h":137.6,"l":137.3,"c":137.45},
{"i":487,"o":137.45,"h":137.5,"l":132.7,"c":132.9},
{"i":488,"o":132.9,"h":133.2,"l":131.9,"c":132.0},
{"i":489,"o":132.0,"h":132.2,"l":131.4,"c":131.5},
{"i":490,"o":131.5,"h":131.6,"l":130.58,"c":131.2},
{"i":491,"o":131.2,"h":132.1,"l":131.15,"c":132.0},
{"i":492,"o":132.0,"h":132.35,"l":131.95,"c":132.25},
{"i":493,"o":132.25,"h":132.3,"l":131.6,"c":131.7},
{"i":494,"o":131.7,"h":132.15,"l":131.65,"c":132.1},
{"i":495,"o":132.1,"h":132.12,"l":131.75,"c":131.8},
{"i":496,"o":131.8,"h":132.35,"l":131.75,"c":132.3},
{"i":497,"o":132.3,"h":132.5,"l":132.25,"c":132.45},
{"i":498,"o":132.45,"h":132.48,"l":131.95,"c":132.0},
{"i":499,"o":132.0,"h":132.35,"l":131.95,"c":132.3},
{"i":500,"o":132.3,"h":132.32,"l":131.9,"c":131.95},
{"i":501,"o":131.95,"h":132.4,"l":131.9,"c":132.35},
{"i":502,"o":132.35,"h":132.65,"l":132.3,"c":132.6},
{"i":503,"o":132.6,"h":132.62,"l":132.35,"c":132.4},
{"i":504,"o":132.4,"h":132.75,"l":132.35,"c":132.7},
{"i":505,"o":132.7,"h":132.72,"l":132.45,"c":132.5},
{"i":506,"o":132.5,"h":132.85,"l":132.45,"c":132.8},
{"i":507,"o":132.8,"h":132.82,"l":132.6,"c":132.65},
{"i":508,"o":132.65,"h":132.95,"l":132.6,"c":132.9},
{"i":509,"o":132.9,"h":132.92,"l":132.7,"c":132.75},
{"i":510,"o":132.75,"h":133.0,"l":132.7,"c":132.95},
{"i":511,"o":132.95,"h":132.98,"l":132.75,"c":132.8},
{"i":512,"o":132.8,"h":133.25,"l":132.75,"c":133.2},
{"i":513,"o":133.2,"h":133.22,"l":133.05,"c":133.1},
{"i":514,"o":133.1,"h":133.45,"l":133.05,"c":133.4},
{"i":515,"o":133.4,"h":133.6,"l":133.35,"c":133.55},
{"i":516,"o":133.55,"h":133.58,"l":133.45,"c":133.5},
{"i":517,"o":133.5,"h":133.85,"l":133.45,"c":133.8},
{"i":518,"o":133.8,"h":134.1,"l":133.75,"c":134.05},
{"i":519,"o":134.05,"h":134.08,"l":133.85,"c":133.9},
{"i":520,"o":133.9,"h":134.3,"l":133.85,"c":134.25},
{"i":521,"o":134.25,"h":134.45,"l":134.2,"c":134.35},
{"i":522,"o":134.35,"h":134.38,"l":133.75,"c":133.8},
{"i":523,"o":133.8,"h":134.05,"l":133.75,"c":134.0},
{"i":524,"o":134.0,"h":134.02,"l":133.55,"c":133.6},
{"i":525,"o":133.6,"h":133.65,"l":133.3,"c":133.35},
{"i":526,"o":133.35,"h":133.55,"l":133.3,"c":133.5},
{"i":527,"o":133.5,"h":133.52,"l":132.95,"c":133.0},
{"i":528,"o":133.0,"h":133.05,"l":132.55,"c":132.6},
{"i":529,"o":132.6,"h":132.85,"l":132.55,"c":132.8},
{"i":530,"o":132.8,"h":132.82,"l":132.15,"c":132.2},
{"i":531,"o":132.2,"h":132.25,"l":132.0,"c":132.05},
{"i":532,"o":132.05,"h":132.1,"l":131.65,"c":131.7},
{"i":533,"o":131.7,"h":131.85,"l":131.65,"c":131.8},
{"i":534,"o":131.8,"h":131.85,"l":131.15,"c":131.2},
{"i":535,"o":131.2,"h":131.25,"l":130.9,"c":130.95},
{"i":536,"o":130.95,"h":131.1,"l":130.9,"c":131.05},
{"i":537,"o":131.05,"h":131.08,"l":130.75,"c":130.8},
{"i":538,"o":130.8,"h":131.0,"l":130.75,"c":130.95},
{"i":539,"o":130.95,"h":130.98,"l":130.55,"c":130.6},
{"i":540,"o":130.6,"h":130.65,"l":129.55,"c":130.1},
{"i":541,"o":130.1,"h":130.15,"l":129.85,"c":129.9},
{"i":542,"o":129.9,"h":130.55,"l":129.85,"c":130.5},
{"i":543,"o":130.5,"h":130.95,"l":130.45,"c":130.9},
{"i":544,"o":130.9,"h":130.92,"l":130.35,"c":130.4},
{"i":545,"o":130.4,"h":131.05,"l":130.35,"c":131.0},
{"i":546,"o":131.0,"h":131.02,"l":130.55,"c":130.6},
{"i":547,"o":130.6,"h":130.8,"l":130.55,"c":130.75},
{"i":548,"o":130.75,"h":130.78,"l":130.1,"c":130.3},
{"i":549,"o":130.3,"h":131.55,"l":130.25,"c":131.5},
{"i":550,"o":131.5,"h":132.7,"l":131.45,"c":132.6},
{"i":551,"o":132.6,"h":132.62,"l":132.25,"c":132.3},
{"i":552,"o":132.3,"h":132.55,"l":132.25,"c":132.5},
{"i":553,"o":132.5,"h":132.52,"l":132.05,"c":132.1},
{"i":554,"o":132.1,"h":132.35,"l":132.0,"c":132.3},
{"i":555,"o":132.3,"h":132.95,"l":132.25,"c":132.9},
{"i":556,"o":132.9,"h":133.55,"l":132.85,"c":133.5},
{"i":557,"o":133.5,"h":133.95,"l":133.45,"c":133.9},
{"i":558,"o":133.9,"h":134.35,"l":133.85,"c":134.3},
{"i":559,"o":134.3,"h":134.77,"l":134.25,"c":134.6},
{"i":560,"o":134.6,"h":134.65,"l":133.25,"c":133.3},
{"i":561,"o":133.3,"h":133.35,"l":132.15,"c":132.2},
{"i":562,"o":132.2,"h":132.25,"l":131.85,"c":131.9},
{"i":563,"o":131.9,"h":132.15,"l":131.85,"c":132.1},
{"i":564,"o":132.1,"h":132.12,"l":131.45,"c":131.7},
{"i":565,"o":131.7,"h":131.9,"l":131.65,"c":131.85},
{"i":566,"o":131.85,"h":132.25,"l":131.8,"c":132.2},
{"i":567,"o":132.2,"h":132.22,"l":131.55,"c":131.6},
{"i":568,"o":131.6,"h":132.45,"l":131.55,"c":132.4},
{"i":569,"o":132.4,"h":132.42,"l":131.85,"c":131.9},
{"i":570,"o":131.9,"h":132.35,"l":131.85,"c":132.3},
{"i":571,"o":132.3,"h":132.55,"l":132.25,"c":132.5},
{"i":572,"o":132.5,"h":132.52,"l":132.15,"c":132.2},
{"i":573,"o":132.2,"h":132.5,"l":132.15,"c":132.45},
{"i":574,"o":132.45,"h":132.75,"l":132.4,"c":132.7},
{"i":575,"o":132.7,"h":132.72,"l":132.5,"c":132.55},
{"i":576,"o":132.55,"h":132.58,"l":132.25,"c":132.3},
{"i":577,"o":132.3,"h":132.65,"l":132.25,"c":132.6},
{"i":578,"o":132.6,"h":132.9,"l":132.55,"c":132.8},
{"i":579,"o":132.8,"h":132.82,"l":132.5,"c":132.55},
{"i":580,"o":132.55,"h":132.6,"l":132.25,"c":132.3},
{"i":581,"o":132.3,"h":132.35,"l":131.55,"c":131.6},
{"i":582,"o":131.6,"h":131.65,"l":130.85,"c":130.9},
{"i":583,"o":130.9,"h":131.15,"l":130.85,"c":131.1},
{"i":584,"o":131.1,"h":131.12,"l":130.45,"c":130.5},
{"i":585,"o":130.5,"h":130.55,"l":129.35,"c":129.4},
{"i":586,"o":129.4,"h":129.45,"l":129.0,"c":129.1},
{"i":587,"o":129.1,"h":129.35,"l":129.05,"c":129.3},
{"i":588,"o":129.3,"h":129.32,"l":128.85,"c":128.9},
{"i":589,"o":128.9,"h":128.95,"l":128.45,"c":128.5},
{"i":590,"o":128.5,"h":128.55,"l":127.95,"c":128.0},
{"i":591,"o":128.0,"h":128.35,"l":127.95,"c":128.3},
{"i":592,"o":128.3,"h":128.32,"l":127.85,"c":127.9},
{"i":593,"o":127.9,"h":127.95,"l":127.55,"c":127.6},
{"i":594,"o":127.6,"h":127.65,"l":127.21,"c":127.35},
{"i":595,"o":127.35,"h":127.95,"l":127.3,"c":127.9},
{"i":596,"o":127.9,"h":128.35,"l":127.85,"c":128.3},
{"i":597,"o":128.3,"h":128.32,"l":128.05,"c":128.1},
{"i":598,"o":128.1,"h":128.55,"l":128.05,"c":128.5},
{"i":599,"o":128.5,"h":128.52,"l":128.15,"c":128.2},
{"i":600,"o":128.2,"h":128.65,"l":128.15,"c":128.6},
{"i":601,"o":128.6,"h":128.62,"l":128.3,"c":128.35},
{"i":602,"o":128.35,"h":128.75,"l":128.3,"c":128.7},
{"i":603,"o":128.7,"h":128.72,"l":128.4,"c":128.45},
{"i":604,"o":128.45,"h":128.85,"l":128.4,"c":128.8},
{"i":605,"o":128.8,"h":128.82,"l":128.3,"c":128.6},
{"i":606,"o":128.6,"h":131.55,"l":128.3,"c":130.9},
{"i":607,"o":130.9,"h":130.95,"l":129.45,"c":129.5},
{"i":608,"o":129.5,"h":129.55,"l":128.55,"c":128.6},
{"i":609,"o":128.6,"h":128.65,"l":128.25,"c":128.3},
{"i":610,"o":128.3,"h":128.85,"l":128.25,"c":128.8},
{"i":611,"o":128.8,"h":128.82,"l":128.45,"c":128.5},
{"i":612,"o":128.5,"h":128.55,"l":128.15,"c":128.2},
{"i":613,"o":128.2,"h":128.5,"l":128.15,"c":128.45},
{"i":614,"o":128.45,"h":128.48,"l":127.6,"c":128.1},
{"i":615,"o":128.1,"h":128.55,"l":128.05,"c":128.5},
{"i":616,"o":128.5,"h":129.05,"l":128.45,"c":129.0},
{"i":617,"o":129.0,"h":129.45,"l":128.95,"c":129.4},
{"i":618,"o":129.4,"h":129.42,"l":129.15,"c":129.2},
{"i":619,"o":129.2,"h":129.95,"l":129.15,"c":129.9},
{"i":620,"o":129.9,"h":130.55,"l":129.85,"c":130.5},
{"i":621,"o":130.5,"h":130.52,"l":130.15,"c":130.2},
{"i":622,"o":130.2,"h":130.45,"l":130.15,"c":130.4},
{"i":623,"o":130.4,"h":130.42,"l":130.05,"c":130.1},
{"i":624,"o":130.1,"h":130.35,"l":130.05,"c":130.3},
{"i":625,"o":130.3,"h":130.6,"l":130.25,"c":130.55},
{"i":626,"o":130.55,"h":130.58,"l":130.3,"c":130.35},
{"i":627,"o":130.35,"h":130.38,"l":130.15,"c":130.2},
{"i":628,"o":130.2,"h":130.5,"l":130.15,"c":130.45},
{"i":629,"o":130.45,"h":130.48,"l":130.2,"c":130.25},
{"i":630,"o":130.25,"h":130.45,"l":130.2,"c":130.4},
{"i":631,"o":130.4,"h":130.42,"l":130.05,"c":130.1},
{"i":632,"o":130.1,"h":130.4,"l":130.05,"c":130.35},
{"i":633,"o":130.35,"h":131.1,"l":130.3,"c":130.5},
{"i":634,"o":130.5,"h":130.52,"l":130.15,"c":130.2},
{"i":635,"o":130.2,"h":130.35,"l":130.15,"c":130.3},
{"i":636,"o":130.3,"h":130.32,"l":130.1,"c":130.15},
{"i":637,"o":130.15,"h":130.45,"l":130.1,"c":130.4},
{"i":638,"o":130.4,"h":130.42,"l":129.95,"c":130.0},
{"i":639,"o":130.0,"h":130.25,"l":129.95,"c":130.2},
{"i":640,"o":130.2,"h":130.4,"l":130.15,"c":130.35},
{"i":641,"o":130.35,"h":130.38,"l":129.45,"c":129.5},
{"i":642,"o":129.5,"h":129.55,"l":129.0,"c":129.25},
{"i":643,"o":129.25,"h":129.75,"l":129.2,"c":129.7},
{"i":644,"o":129.7,"h":130.15,"l":129.65,"c":130.1},
{"i":645,"o":130.1,"h":130.3,"l":130.05,"c":130.25},
{"i":646,"o":130.25,"h":130.28,"l":129.95,"c":130.0},
{"i":647,"o":130.0,"h":130.35,"l":129.95,"c":130.3},
{"i":648,"o":130.3,"h":130.32,"l":130.1,"c":130.15},
{"i":649,"o":130.15,"h":130.18,"l":129.9,"c":129.95},
{"i":650,"o":129.95,"h":130.15,"l":129.9,"c":130.1},
{"i":651,"o":130.1,"h":130.12,"l":129.75,"c":129.8},
{"i":652,"o":129.8,"h":130.05,"l":129.75,"c":130.0},
{"i":653,"o":130.0,"h":130.02,"l":129.7,"c":129.75},
{"i":654,"o":129.75,"h":130.1,"l":129.7,"c":130.05},
{"i":655,"o":130.05,"h":130.08,"l":129.8,"c":129.85},
{"i":656,"o":129.85,"h":129.88,"l":129.6,"c":129.7},
{"i":657,"o":129.7,"h":130.25,"l":129.65,"c":130.2},
{"i":658,"o":130.2,"h":130.45,"l":130.15,"c":130.4},
{"i":659,"o":130.4,"h":130.42,"l":130.15,"c":130.2},
{"i":660,"o":130.2,"h":130.5,"l":130.15,"c":130.45},
{"i":661,"o":130.45,"h":130.48,"l":130.2,"c":130.25},
{"i":662,"o":130.25,"h":130.28,"l":130.05,"c":130.1},
{"i":663,"o":130.1,"h":130.35,"l":130.05,"c":130.3},
{"i":664,"o":130.3,"h":130.32,"l":129.9,"c":129.95},
{"i":665,"o":129.95,"h":130.25,"l":129.9,"c":130.2},
{"i":666,"o":130.2,"h":130.22,"l":130.0,"c":130.05},
{"i":667,"o":130.05,"h":130.08,"l":129.35,"c":129.4},
{"i":668,"o":129.4,"h":129.45,"l":129.15,"c":129.2},
{"i":669,"o":129.2,"h":129.25,"l":128.75,"c":128.8},
{"i":670,"o":128.8,"h":128.85,"l":128.6,"c":128.65},
{"i":671,"o":128.65,"h":128.95,"l":128.6,"c":128.9},
{"i":672,"o":128.9,"h":128.92,"l":128.45,"c":128.5},
{"i":673,"o":128.5,"h":128.75,"l":128.45,"c":128.7},
{"i":674,"o":128.7,"h":128.72,"l":128.4,"c":128.45},
{"i":675,"o":128.45,"h":128.65,"l":128.4,"c":128.6},
{"i":676,"o":128.6,"h":128.62,"l":128.08,"c":128.35},
{"i":677,"o":128.35,"h":128.6,"l":128.3,"c":128.55},
{"i":678,"o":128.55,"h":128.58,"l":128.35,"c":128.4},
{"i":679,"o":128.4,"h":128.65,"l":128.35,"c":128.6},
{"i":680,"o":128.6,"h":130.05,"l":128.55,"c":130.0},
{"i":681,"o":130.0,"h":131.25,"l":129.95,"c":131.2},
{"i":682,"o":131.2,"h":131.55,"l":131.15,"c":131.5},
{"i":683,"o":131.5,"h":131.95,"l":131.45,"c":131.9},
{"i":684,"o":131.9,"h":132.25,"l":131.85,"c":132.2},
{"i":685,"o":132.2,"h":132.22,"l":131.8,"c":131.85},
{"i":686,"o":131.85,"h":132.15,"l":131.8,"c":132.1},
{"i":687,"o":132.1,"h":132.55,"l":132.05,"c":132.5},
{"i":688,"o":132.5,"h":132.9,"l":132.45,"c":132.75},
{"i":689,"o":132.75,"h":132.78,"l":132.25,"c":132.3},
{"i":690,"o":132.3,"h":132.35,"l":131.95,"c":132.0},
{"i":691,"o":132.0,"h":132.3,"l":131.95,"c":132.25},
{"i":692,"o":132.25,"h":132.28,"l":131.8,"c":131.85},
{"i":693,"o":131.85,"h":131.9,"l":130.55,"c":130.6},
{"i":694,"o":130.6,"h":130.95,"l":130.55,"c":130.9},
{"i":695,"o":130.9,"h":131.25,"l":130.85,"c":131.2},
{"i":696,"o":131.2,"h":131.22,"l":130.65,"c":130.7},
{"i":697,"o":130.7,"h":131.05,"l":130.65,"c":131.0},
{"i":698,"o":131.0,"h":131.02,"l":130.7,"c":130.75},
{"i":699,"o":130.75,"h":131.2,"l":130.7,"c":131.15},
{"i":700,"o":131.15,"h":131.18,"l":130.85,"c":130.9},
{"i":701,"o":130.9,"h":130.95,"l":130.65,"c":130.7},
{"i":702,"o":130.7,"h":130.9,"l":130.65,"c":130.85},
{"i":703,"o":130.85,"h":130.88,"l":130.35,"c":130.4},
{"i":704,"o":130.4,"h":130.55,"l":130.35,"c":130.5},
{"i":705,"o":130.5,"h":131.15,"l":130.45,"c":131.1},
{"i":706,"o":131.1,"h":131.55,"l":131.05,"c":131.5},
{"i":707,"o":131.5,"h":131.52,"l":131.15,"c":131.2},
{"i":708,"o":131.2,"h":131.5,"l":131.15,"c":131.45},
{"i":709,"o":131.45,"h":131.65,"l":131.4,"c":131.6},
{"i":710,"o":131.6,"h":131.62,"l":130.3,"c":131.3},
{"i":711,"o":131.3,"h":131.7,"l":131.25,"c":131.65},
{"i":712,"o":131.65,"h":132.15,"l":131.6,"c":132.1},
{"i":713,"o":132.1,"h":132.5,"l":132.05,"c":132.45},
{"i":714,"o":132.45,"h":132.75,"l":132.4,"c":132.7},
{"i":715,"o":132.7,"h":132.85,"l":132.5,"c":132.55},
{"i":716,"o":132.55,"h":132.58,"l":132.25,"c":132.3},
{"i":717,"o":132.3,"h":132.5,"l":132.25,"c":132.45},
{"i":718,"o":132.45,"h":132.48,"l":131.95,"c":132.0},
{"i":719,"o":132.0,"h":132.05,"l":131.85,"c":131.95},
{"i":720,"o":131.95,"h":132.25,"l":131.9,"c":132.2},
{"i":721,"o":132.2,"h":132.22,"l":132.05,"c":132.1},
{"i":722,"o":132.1,"h":132.65,"l":132.05,"c":132.6},
{"i":723,"o":132.6,"h":133.1,"l":132.55,"c":133.05},
{"i":724,"o":133.05,"h":133.4,"l":133.0,"c":133.35},
{"i":725,"o":133.35,"h":133.38,"l":133.15,"c":133.2},
{"i":726,"o":133.2,"h":133.65,"l":133.15,"c":133.6},
{"i":727,"o":133.6,"h":134.0,"l":133.55,"c":133.95},
{"i":728,"o":133.95,"h":134.35,"l":133.9,"c":134.3},
{"i":729,"o":134.3,"h":134.32,"l":134.15,"c":134.2},
{"i":730,"o":134.2,"h":134.22,"l":134.0,"c":134.05},
{"i":731,"o":134.05,"h":134.08,"l":133.8,"c":133.85},
{"i":732,"o":133.85,"h":134.15,"l":133.8,"c":134.1},
{"i":733,"o":134.1,"h":134.12,"l":133.85,"c":133.9},
{"i":734,"o":133.9,"h":134.05,"l":133.85,"c":134.0},
{"i":735,"o":134.0,"h":134.02,"l":133.5,"c":133.8},
{"i":736,"o":133.8,"h":134.2,"l":133.75,"c":134.15},
{"i":737,"o":134.15,"h":134.65,"l":134.1,"c":134.6},
{"i":738,"o":134.6,"h":134.9,"l":134.55,"c":134.85},
{"i":739,"o":134.85,"h":135.1,"l":134.8,"c":135.0},
{"i":740,"o":135.0,"h":135.02,"l":134.65,"c":134.7},
{"i":741,"o":134.7,"h":134.72,"l":134.35,"c":134.4},
{"i":742,"o":134.4,"h":134.6,"l":134.35,"c":134.55},
{"i":743,"o":134.55,"h":134.58,"l":134.15,"c":134.2},
{"i":744,"o":134.2,"h":134.4,"l":134.15,"c":134.35},
{"i":745,"o":134.35,"h":134.38,"l":134.05,"c":134.1},
{"i":746,"o":134.1,"h":134.35,"l":134.05,"c":134.3},
{"i":747,"o":134.3,"h":134.32,"l":134.1,"c":134.15},
{"i":748,"o":134.15,"h":134.45,"l":134.1,"c":134.4},
{"i":749,"o":134.4,"h":134.42,"l":134.25,"c":134.3},
{"i":750,"o":134.3,"h":134.6,"l":134.25,"c":134.55},
{"i":751,"o":134.55,"h":134.8,"l":134.5,"c":134.75},
{"i":752,"o":134.75,"h":135.2,"l":134.7,"c":134.95},
{"i":753,"o":134.95,"h":134.98,"l":134.75,"c":134.8},
{"i":754,"o":134.8,"h":134.9,"l":134.75,"c":134.85},
{"i":755,"o":134.85,"h":134.88,"l":134.55,"c":134.6},
{"i":756,"o":134.6,"h":134.8,"l":134.55,"c":134.75},
{"i":757,"o":134.75,"h":134.78,"l":134.5,"c":134.55},
{"i":758,"o":134.55,"h":134.85,"l":134.5,"c":134.8},
{"i":759,"o":134.8,"h":134.82,"l":134.6,"c":134.65},
{"i":760,"o":134.65,"h":134.95,"l":134.6,"c":134.9},
{"i":761,"o":134.9,"h":134.92,"l":134.65,"c":134.7},
{"i":762,"o":134.7,"h":134.85,"l":134.65,"c":134.8},
{"i":763,"o":134.8,"h":134.82,"l":134.55,"c":134.6},
{"i":764,"o":134.6,"h":134.62,"l":134.2,"c":134.4},
{"i":765,"o":134.4,"h":134.75,"l":134.35,"c":134.7},
{"i":766,"o":134.7,"h":135.1,"l":134.65,"c":135.05},
{"i":767,"o":135.05,"h":135.35,"l":134.0,"c":135.3},
{"i":768,"o":135.3,"h":135.32,"l":134.85,"c":134.9},
{"i":769,"o":134.9,"h":135.65,"l":134.85,"c":135.6},
{"i":770,"o":135.6,"h":136.15,"l":135.55,"c":136.1},
{"i":771,"o":136.1,"h":136.45,"l":136.05,"c":136.4},
{"i":772,"o":136.4,"h":136.42,"l":136.25,"c":136.3},
{"i":773,"o":136.3,"h":136.32,"l":136.1,"c":136.2},
{"i":774,"o":136.2,"h":136.4,"l":136.15,"c":136.35},
{"i":775,"o":136.35,"h":136.38,"l":136.05,"c":136.1},
{"i":776,"o":136.1,"h":136.3,"l":136.05,"c":136.25},
{"i":777,"o":136.25,"h":136.28,"l":136.0,"c":136.05},
{"i":778,"o":136.05,"h":136.35,"l":136.0,"c":136.3},
{"i":779,"o":136.3,"h":136.32,"l":136.1,"c":136.15},
{"i":780,"o":136.15,"h":136.45,"l":136.1,"c":136.4},
{"i":781,"o":136.4,"h":136.75,"l":136.35,"c":136.7},
{"i":782,"o":136.7,"h":136.72,"l":136.45,"c":136.5},
{"i":783,"o":136.5,"h":136.52,"l":135.7,"c":135.9},
{"i":784,"o":135.9,"h":136.35,"l":135.85,"c":136.3},
{"i":785,"o":136.3,"h":136.5,"l":136.25,"c":136.45},
{"i":786,"o":136.45,"h":136.48,"l":136.15,"c":136.2},
{"i":787,"o":136.2,"h":136.4,"l":136.15,"c":136.35},
{"i":788,"o":136.35,"h":136.38,"l":136.05,"c":136.1},
{"i":789,"o":136.1,"h":136.35,"l":136.05,"c":136.3},
{"i":790,"o":136.3,"h":136.45,"l":136.25,"c":136.4},
{"i":791,"o":136.4,"h":136.42,"l":136.15,"c":136.2},
{"i":792,"o":136.2,"h":136.65,"l":136.15,"c":136.6},
{"i":793,"o":136.6,"h":136.95,"l":136.55,"c":136.9},
{"i":794,"o":136.9,"h":137.15,"l":136.85,"c":137.1},
{"i":795,"o":137.1,"h":137.12,"l":136.8,"c":136.85},
{"i":796,"o":136.85,"h":136.88,"l":136.65,"c":136.7},
{"i":797,"o":136.7,"h":136.72,"l":136.15,"c":136.2},
{"i":798,"o":136.2,"h":136.5,"l":136.15,"c":136.45},
{"i":799,"o":136.45,"h":136.48,"l":135.95,"c":136.0},
{"i":800,"o":136.0,"h":136.3,"l":135.95,"c":136.25},
{"i":801,"o":136.25,"h":136.28,"l":135.85,"c":135.9},
{"i":802,"o":135.9,"h":136.2,"l":135.85,"c":136.15},
{"i":803,"o":136.15,"h":136.18,"l":135.9,"c":135.95},
{"i":804,"o":135.95,"h":136.25,"l":135.9,"c":136.2},
{"i":805,"o":136.2,"h":136.22,"l":136.0,"c":136.05},
{"i":806,"o":136.05,"h":136.08,"l":135.75,"c":135.85},
{"i":807,"o":135.85,"h":136.2,"l":135.8,"c":136.15},
{"i":808,"o":136.15,"h":136.18,"l":135.9,"c":135.95},
{"i":809,"o":135.95,"h":136.15,"l":135.9,"c":136.1},
{"i":810,"o":136.1,"h":136.12,"l":135.85,"c":135.9},
{"i":811,"o":135.9,"h":136.25,"l":135.85,"c":136.2},
{"i":812,"o":136.2,"h":136.75,"l":136.15,"c":136.7},
{"i":813,"o":136.7,"h":137.15,"l":136.65,"c":137.1},
{"i":814,"o":137.1,"h":137.55,"l":137.05,"c":137.5},
{"i":815,"o":137.5,"h":137.91,"l":137.45,"c":137.75},
{"i":816,"o":137.75,"h":137.8,"l":137.45,"c":137.5},
{"i":817,"o":137.5,"h":137.55,"l":137.15,"c":137.2},
{"i":818,"o":137.2,"h":137.4,"l":137.15,"c":137.35},
{"i":819,"o":137.35,"h":137.38,"l":136.5,"c":136.9},
{"i":820,"o":136.9,"h":137.1,"l":136.85,"c":137.05},
{"i":821,"o":137.05,"h":137.08,"l":136.75,"c":136.8},
{"i":822,"o":136.8,"h":136.85,"l":136.55,"c":136.6},
{"i":823,"o":136.6,"h":136.62,"l":136.2,"c":136.25},
{"i":824,"o":136.25,"h":136.3,"l":136.0,"c":136.05},
{"i":825,"o":136.05,"h":136.25,"l":136.0,"c":136.2},
{"i":826,"o":136.2,"h":136.22,"l":135.9,"c":135.95},
{"i":827,"o":135.95,"h":136.35,"l":135.9,"c":136.3},
{"i":828,"o":136.3,"h":136.8,"l":136.25,"c":136.75},
{"i":829,"o":136.75,"h":137.0,"l":136.7,"c":136.9},
{"i":830,"o":136.9,"h":136.92,"l":136.3,"c":136.4},
{"i":831,"o":136.4,"h":136.45,"l":134.1,"c":134.74},
{"i":832,"o":134.738,"h":135.138,"l":134.671,"c":135.06}
]
},
"layer": [
{
"data": {"name": "candles"},
"mark": {"type": "rule", "color": "#000000", "strokeWidth": 1},
"encoding": {
"x": {"field": "i", "type": "quantitative", "scale": {"domain": [-0.125, 936.375], "nice": false, "zero": false},
"axis": {"orient": "top", "values": [1,17,33,49,65,81,97,113,129,145,161,177,193,209,225,241,257,273,289,305,321,337,353,369,385,401,417,433,449,465,481,497,513,529,545,561,577,593,609,625,641,657,673,689,705,721,737,753,769,785,801,817,833,849,865,881,897,913,929], "labels": false, "ticks": false, "domain": false, "grid": true, "gridColor": "#c0c0c0", "gridDash": [3,3], "gridWidth": 1, "title": null}},
"y": {"field": "l", "type": "quantitative", "scale": {"domain": [126.58, 153.21], "nice": false, "zero": false},
"axis": {"orient": "right", "values": [152.71,151.82,150.94,150.05,149.17,148.29,147.4,146.52,145.63,144.75,143.86,142.98,142.1,141.21,140.33,139.44,138.56,137.68,136.79,135.91,135.03,134.14,133.26,132.37,131.49,130.6,129.72,128.84,127.95,127.07], "format": ".3f", "title": null, "grid": true, "gridColor": "#c0c0c0", "gridDash": [3,3], "gridWidth": 1, "domain": true, "domainColor": "#000000", "ticks": true, "tickColor": "#000000", "tickSize": 4, "labelFont": "DejaVu Sans", "labelFontSize": 15.5, "labelColor": "#000000", "labelPadding": 5, "labelAlign": "left", "labelBaseline": "middle", "labelOverlap": false, "labelBound": false, "labelFlush": false}},
"y2": {"field": "h"}
}
},
{
"data": {"name": "candles"},
"mark": {"type": "bar", "size": 2, "stroke": "#000000", "strokeWidth": 1},
"encoding": {
"x": {"field": "i", "type": "quantitative", "scale": {"domain": [-0.125, 936.375], "nice": false, "zero": false},
"axis": {"orient": "bottom", "values": [0,33,65,97,129,161,193,225,257,289,321,353,385,417,449,481,513,545,577,609,641,673,705,737,769,801], "labelExpr": "['29 Aug 2022','5 Sep 16:00','13 Sep 00:00','20 Sep 08:00','27 Sep 16:00','5 Oct 00:00','12 Oct 08:00','19 Oct 16:00','27 Oct 00:00','3 Nov 08:00','10 Nov 16:00','18 Nov 00:00','25 Nov 08:00','2 Dec 16:00','12 Dec 00:00','19 Dec 08:00','27 Dec 12:00','4 Jan 00:00','11 Jan 08:00','18 Jan 16:00','26 Jan 00:00','2 Feb 08:00','9 Feb 16:00','17 Feb 00:00','24 Feb 08:00','3 Mar 16:00'][datum.value == 0 ? 0 : (datum.value - 1) / 32]", "title": null, "grid": false, "domain": true, "domainColor": "#000000", "ticks": true, "tickColor": "#000000", "tickSize": 4, "labelFont": "DejaVu Sans", "labelFontSize": 15.5, "labelColor": "#000000", "labelPadding": 4, "labelAlign": "left", "labelBaseline": "top", "labelOverlap": false, "labelBound": false, "labelFlush": false}},
"y": {"field": "o", "type": "quantitative", "scale": {"domain": [126.58, 153.21], "nice": false, "zero": false}, "axis": null},
"y2": {"field": "c"},
"fill": {"condition": {"test": "datum.c >= datum.o", "value": "#ffffff"}, "value": "#000000"}
}
},
{
"data": {"name": "candles"},
"transform": [{"filter": "datum.i == 832"}],
"mark": {"type": "rule", "color": "#c0c0c0", "strokeWidth": 1},
"encoding": {
"y": {"field": "c", "type": "quantitative", "scale": {"domain": [126.58, 153.21], "nice": false, "zero": false}, "axis": null}
}
},
{
"data": {"name": "candles"},
"transform": [{"filter": "datum.i == 832"}],
"mark": {"type": "bar", "size": 24, "yOffset": 5, "fill": "#000000"},
"encoding": {
"x": {"datum": 937, "type": "quantitative", "scale": {"domain": [-0.125, 936.375], "nice": false, "zero": false}, "axis": null},
"x2": {"datum": 957},
"y": {"field": "c", "type": "quantitative", "scale": {"domain": [126.58, 153.21], "nice": false, "zero": false}, "axis": null}
}
},
{
"data": {"name": "levels"},
"transform": [{"filter": "datum.t == 'oct'"}],
"mark": {"type": "rule", "strokeWidth": 1, "strokeDash": [18, 6]},
"encoding": {
"y": {"field": "v", "type": "quantitative", "scale": {"domain": [126.58, 153.21], "nice": false, "zero": false}, "axis": null},
"color": {"field": "name", "type": "nominal", "legend": null, "scale": {"domain": ["H4[+2/8]","H4[+1/8]","MN1[6/8] W1[6/8] D1RES H4RES","H4[7/8]","H4[6/8]","H4[5/8]","D1[7/8] H4PIVOT","H4[3/8]","H4[2/8]","H4[1/8]","D1[6/8] H4SUP","H4[-1/8]","H4[-2/8]"], "range": ["#c71585","#ff00ff","#1e90ff","#ff8c00","#ff4500","#556b2f","#1e90ff","#556b2f","#ff4500","#ff8c00","#1e90ff","#ff00ff","#c71585"]}}
}
},
{
"data": {"name": "levels"},
"transform": [{"filter": "datum.t == 'sr'"}],
"mark": {"type": "rule"},
"encoding": {
"y": {"field": "v", "type": "quantitative", "scale": {"domain": [126.58, 153.21], "nice": false, "zero": false}, "axis": null},
"color": {"field": "name", "type": "nominal", "legend": null},
"strokeWidth": {"field": "n", "type": "quantitative", "legend": null, "scale": {"domain": [2, 4], "range": [1, 2]}}
}
},
{
"data": {"name": "levels"},
"mark": {"type": "text", "font": "Liberation Sans", "fontSize": 21, "align": "center", "baseline": "top", "dy": 2},
"encoding": {
"x": {"datum": 806.4, "type": "quantitative", "scale": {"domain": [-0.125, 936.375], "nice": false, "zero": false}, "axis": null},
"y": {"field": "v", "type": "quantitative", "scale": {"domain": [126.58, 153.21], "nice": false, "zero": false}, "axis": null},
"text": {"field": "name"},
"color": {"field": "name", "type": "nominal", "legend": null}
}
},
{
"data": {"name": "levels"},
"mark": {"type": "bar", "size": 24, "yOffset": 5},
"encoding": {
"x": {"datum": 937, "type": "quantitative", "scale": {"domain": [-0.125, 936.375], "nice": false, "zero": false}, "axis": null},
"x2": {"datum": 957},
"y": {"field": "v", "type": "quantitative", "scale": {"domain": [126.58, 153.21], "nice": false, "zero": false}, "axis": null},
"color": {"field": "name", "type": "nominal", "legend": null}
}
},
{
"data": {"name": "levels"},
"mark": {"type": "text", "font": "DejaVu Sans", "fontSize": 15.5, "align": "left", "baseline": "middle", "yOffset": 5, "fill": "#ffffff"},
"encoding": {
"x": {"datum": 939, "type": "quantitative", "scale": {"domain": [-0.125, 936.375], "nice": false, "zero": false}, "axis": null},
"y": {"field": "v", "type": "quantitative", "scale": {"domain": [126.58, 153.21], "nice": false, "zero": false}, "axis": null},
"text": {"field": "v", "type": "quantitative", "format": ".3f"}
}
},
{
"data": {"values": [{}]},
"mark": {"type": "text", "font": "DejaVu Sans", "fontSize": 11, "align": "center", "baseline": "middle", "fill": "#000000"},
"encoding": {
"x": {"datum": 3.3, "type": "quantitative", "scale": {"domain": [-0.125, 936.375], "nice": false, "zero": false}, "axis": null},
"y": {"datum": 153.0, "type": "quantitative", "scale": {"domain": [126.58, 153.21], "nice": false, "zero": false}, "axis": null},
"text": {"value": "▼"}
}
},
{
"data": {"values": [{}]},
"mark": {"type": "text", "font": "DejaVu Sans", "fontSize": 16.5, "align": "left", "baseline": "middle", "fill": "#000000"},
"encoding": {
"x": {"datum": 8, "type": "quantitative", "scale": {"domain": [-0.125, 936.375], "nice": false, "zero": false}, "axis": null},
"y": {"datum": 153.0, "type": "quantitative", "scale": {"domain": [126.58, 153.21], "nice": false, "zero": false}, "axis": null},
"text": {"value": "USDJPY,H4  134.738 135.138 134.671 135.060"}
}
}
],
"resolve": {"axis": {"x": "independent", "y": "independent"}}
}
